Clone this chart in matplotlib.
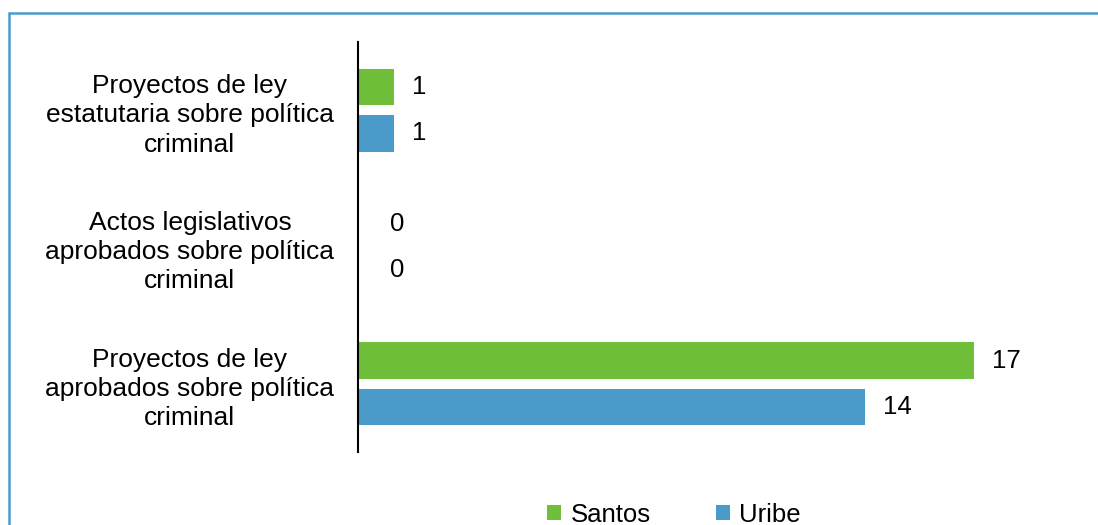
import numpy as np
import matplotlib.pyplot as plt
from matplotlib.patches import Rectangle

plt.rcParams['font.family'] = ['Liberation Sans', 'DejaVu Sans']

categorias = ['Proyectos de ley\naprobados sobre política\ncriminal',
              'Actos legislativos\naprobados sobre política\ncriminal',
              'Proyectos de ley\nestatutaria sobre política\ncriminal']
santos = [17, 0, 1]
uribe = [14, 0, 1]

verde = '#70bf3a'
azul = '#4a9bca'

fig = plt.figure(figsize=(10.98, 5.25), dpi=100)
ax = fig.add_axes([0.326, 0.139, 0.627, 0.781])

ind = np.arange(len(categorias))
h = 0.265
d = 0.169
b1 = ax.barh(ind + d, santos, h, color=verde, label='Santos')
b2 = ax.barh(ind - d, uribe, h, color=azul, label='Uribe')

for rects, vals in ((b1, santos), (b2, uribe)):
    for r, v in zip(rects, vals):
        off = 13 if v > 0 else 23
        ax.annotate(str(v), (r.get_width(), r.get_y() + r.get_height() / 2),
                    xytext=(off, 0), textcoords='offset points',
                    ha='left', va='center', fontsize=18.5)

ax.set_xlim(0, 19)
ax.set_ylim(-0.5, 2.5)
ax.set_yticks(ind)
ax.set_yticklabels(categorias, ha='center', fontsize=19, linespacing=1.27)
ax.tick_params(axis='y', length=0, pad=121)
ax.set_xticks([])
for s in ('top', 'right', 'bottom'):
    ax.spines[s].set_visible(False)
ax.spines['left'].set_linewidth(1.5)

fig.legend(handles=[b1, b2], loc='lower center', bbox_to_anchor=(0.614, -0.047),
           ncol=2, frameon=False, fontsize=18.5, handlelength=0.55,
           handleheight=0.55, handletextpad=0.35, columnspacing=2.56)

fig.add_artist(Rectangle((9 / 1098, -0.1), 1.2, 1 - 13 / 525 + 0.1,
                         transform=fig.transFigure, fill=False,
                         edgecolor='#4a9bd0', linewidth=1.8))

fig.savefig('out.png', dpi=100)
